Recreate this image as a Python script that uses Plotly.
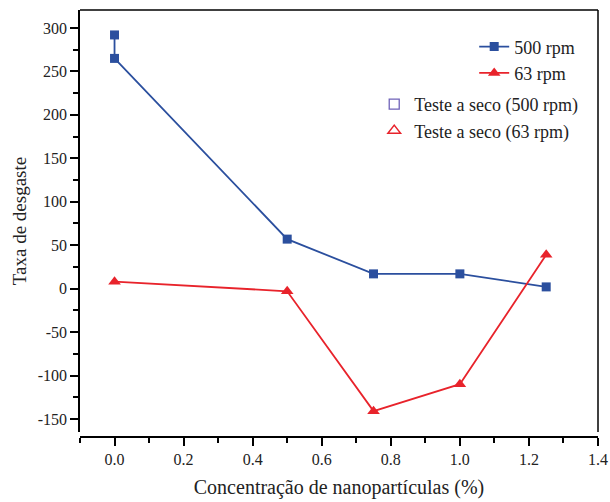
import plotly.graph_objects as go

conc_500 = [0.0, 0.0, 0.5, 0.75, 1.0, 1.25]
taxa_500 = [292, 265, 57, 17, 17, 2]
conc_63 = [0.0, 0.5, 0.75, 1.0, 1.25]
taxa_63 = [8, -3, -141, -110, 39]

x_ticks = [0.0, 0.2, 0.4, 0.6, 0.8, 1.0, 1.2, 1.4]
x_ticklabels = ["0.0", "0.2", "0.4", "0.6", "0.8", "1.0", "1.2", "1.4"]
y_ticks = [-150, -100, -50, 0, 50, 100, 150, 200, 250, 300]
y_ticklabels = ["-150", "-100", "-50", "0", "50", "100", "150", "200", "250", "300"]

BLUE = "#2b4f9e"
RED = "#e8232b"
FONT = "Liberation Serif"

fig = go.Figure()
fig.add_trace(go.Scatter(x=conc_500, y=taxa_500, mode="lines+markers", name="500 rpm",
                         line=dict(color=BLUE, width=1.8),
                         marker=dict(symbol="square", size=9, color=BLUE), legend="legend"))
fig.add_trace(go.Scatter(x=conc_63, y=taxa_63, mode="lines+markers", name="63 rpm",
                         line=dict(color=RED, width=1.8),
                         marker=dict(symbol="triangle-up", size=11, color=RED), legend="legend"))
fig.add_trace(go.Scatter(x=[None], y=[None], mode="markers", name="Teste a seco (500 rpm)",
                         marker=dict(symbol="square-open", size=10, color="#6f62b8", line=dict(width=1.3)),
                         legend="legend2"))
fig.add_trace(go.Scatter(x=[None], y=[None], mode="markers", name="Teste a seco (63 rpm)",
                         marker=dict(symbol="triangle-up-open", size=11, color=RED, line=dict(width=1.5)),
                         legend="legend2"))

fig.update_layout(
    width=610, height=502,
    margin=dict(l=80, r=12, t=10, b=65, autoexpand=False),
    paper_bgcolor="white", plot_bgcolor="white",
    font=dict(family=FONT, size=16, color="#222222"),
    showlegend=True,
    legend=dict(x=0.761, y=0.957, xanchor="left", yanchor="top", bgcolor="rgba(0,0,0,0)",
                font=dict(family=FONT, size=18, color="#222222"), tracegroupgap=0, itemwidth=30),
    legend2=dict(x=0.568, y=0.822, xanchor="left", yanchor="top", bgcolor="rgba(0,0,0,0)",
                 font=dict(family=FONT, size=18, color="#222222"), tracegroupgap=0, itemwidth=30),
    xaxis=dict(range=[-0.1, 1.4], tickvals=x_ticks, ticktext=x_ticklabels,
               showgrid=False, zeroline=False, showline=True, linecolor="black", linewidth=1.5,
               ticks="outside", ticklen=8, tickwidth=1.5, tickcolor="black",
               minor=dict(dtick=0.1, tick0=0.0, ticks="outside", ticklen=5, tickwidth=1.5, tickcolor="black"),
               anchor="free", position=0,
               title=dict(text="Concentração de nanopartículas (%)", font=dict(family=FONT, size=20), standoff=12)),
    yaxis=dict(range=[-165, 320.7], domain=[0.0117, 1], tickvals=y_ticks, ticktext=y_ticklabels,
               showgrid=False, zeroline=False, showline=True, linecolor="black", linewidth=1.5,
               ticks="outside", ticklen=8, tickwidth=1.5, tickcolor="black",
               minor=dict(dtick=25, tick0=0, ticks="outside", ticklen=5, tickwidth=1.5, tickcolor="black"),
               title=dict(text="Taxa de desgaste", font=dict(family=FONT, size=19), standoff=6)),
    shapes=[
        dict(type="line", xref="x domain", yref="y domain", x0=0, x1=1, y0=1, y1=1,
             line=dict(color="black", width=1.5)),
        dict(type="line", xref="x domain", yref="y domain", x0=1, x1=1, y0=0, y1=1,
             line=dict(color="black", width=1.5)),
    ],
)

fig.write_html("out.html")
